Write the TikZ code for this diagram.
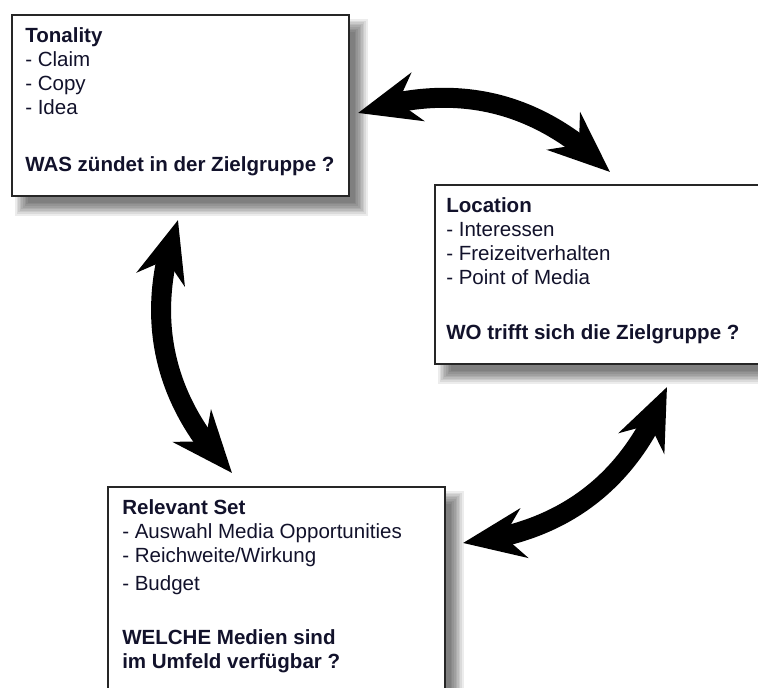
\documentclass[tikz,border=0pt]{standalone}
\usepackage{fontspec}
\setmainfont{Liberation Sans}
\usetikzlibrary{
  arrows.meta,  % Stealth heads
  bending,      % heads follow the bent shafts
  calc,         % shadow offsets
  positioning   % text inside the boxes
}
\pgfdeclarelayer{background}
\pgfsetlayers{background,main}
\newlength\px
\setlength\px{0.75pt}
\definecolor{inkblue}{rgb}{0.07,0.07,0.17}
\tikzset{
  infobox/.style={
    draw=black!85,
    line width=1.2pt,
    fill=white,
    anchor=north west,
    inner sep=0pt
  },
  boxtext/.style={
    anchor=north west,
    align=left,
    inner sep=0pt,
    text=inkblue,
    font=\fontsize{15.4pt}{18pt}\selectfont
  },
  cyclearrow/.style={
    {Stealth[length=46pt, width=37pt, inset=15pt]}-{Stealth[length=46pt, width=37pt, inset=15pt]},
    line width=15pt,
    black
  }
}

\begin{document}
\begin{tikzpicture}[x=0.75pt, y=-0.75pt]
    \useasboundingbox (0,0) rectangle (758,688);
    \clip (0,0) rectangle (758,688);

    % die drei Kaesten
    \node[infobox, minimum width=337\px, minimum height=181\px] (tonality) at (11,14) {};
    \node[infobox, minimum width=345\px, minimum height=179\px] (location) at (434,184) {};
    \node[infobox, minimum width=337\px, minimum height=240\px] (relevantset) at (107,486) {};

    % Texte
    \node[boxtext, below right=13\px and 14\px of tonality.north west] (tonalitytext) {%
      \textbf{Tonality}\\
      - Claim\\
      - Copy\\
      - Idea\\[33\px]
      \textbf{WAS zündet in der Zielgruppe ?}};
    \node[boxtext, below right=13\px and 12\px of location.north west] (locationtext) {%
      \textbf{Location}\\
      - Interessen\\
      - Freizeitverhalten\\
      - Point of Media\\[31\px]
      \textbf{WO trifft sich die Zielgruppe ?}};
    \node[boxtext, below right=13\px and 15\px of relevantset.north west] (relevanttext) {%
      \textbf{Relevant Set}\\
      - Auswahl Media Opportunities\\
      - Reichweite/Wirkung\\[4\px]
      - Budget\\[30\px]
      \textbf{WELCHE Medien sind}\\
      \textbf{im Umfeld verfügbar ?}};

    % Pfeilspitzen
    \coordinate (tonalityright) at (358,113);
    \coordinate (locationtop)   at (610,172);
    \coordinate (tonalitybelow) at (178,220);
    \coordinate (relevanttop)   at (232,473);
    \coordinate (relevantright) at (463,543);
    \coordinate (locationbelow) at (667,387);

    % Doppelpfeile
    \draw[cyclearrow] (tonalityright) to[bend left=32] (locationtop);
    \draw[cyclearrow] (tonalitybelow) to[bend right=32] (relevanttop);
    \draw[cyclearrow] (relevantright) to[bend right=32] (locationbelow);

    % weiche Schatten
    \begin{pgfonlayer}{background}
      \clip (0,0) rectangle (758,688);
      \foreach \b in {tonality,location,relevantset}
        \foreach \k in {0,...,8}
          \fill[black, opacity=0.075]
            ($(\b.north west)+(4+1.6*\k,5+1.6*\k)$) rectangle
            ($(\b.south east)+(18-1.6*\k,19-1.6*\k)$);
    \end{pgfonlayer}

  \end{tikzpicture}
\end{document}
